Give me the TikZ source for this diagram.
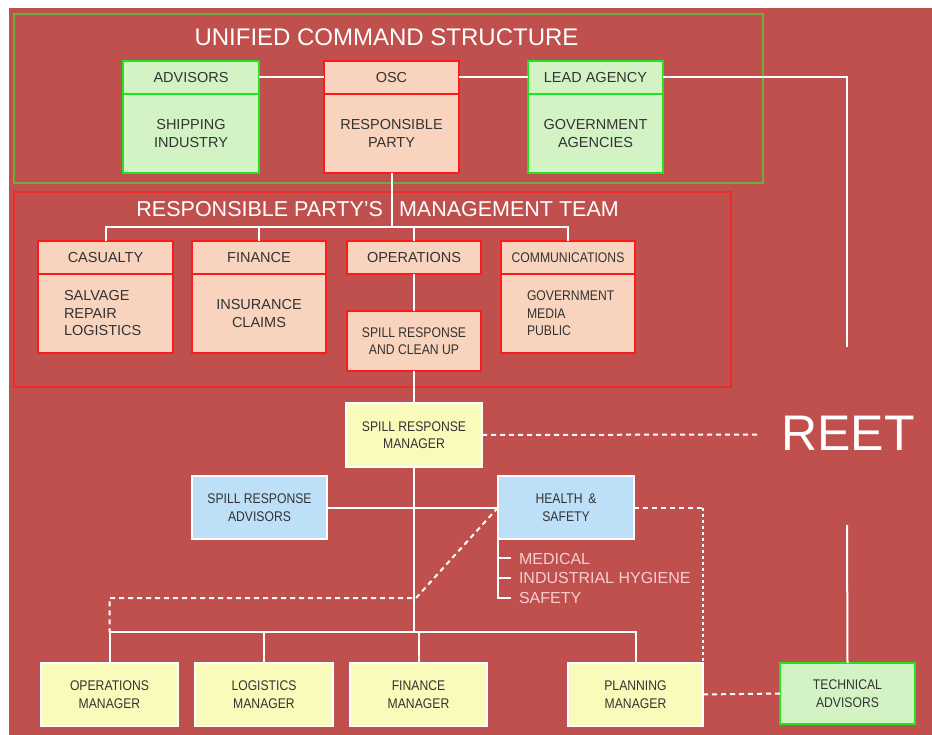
\documentclass[tikz,border=0pt]{standalone}
\usepackage{fontspec}
\setmainfont{Liberation Sans}
\newfontfamily\condf[FakeStretch=0.87]{Liberation Sans}
\definecolor{bgred}{HTML}{C0504D}
\definecolor{peach}{HTML}{F8D3BD}
\definecolor{pred}{HTML}{FF1A1A}
\definecolor{lgreen}{HTML}{D3F3C5}
\definecolor{ggreen}{HTML}{1EE61E}
\definecolor{yell}{HTML}{FAFABB}
\definecolor{lblue}{HTML}{BDE0F8}
\definecolor{framegreen}{HTML}{6BAE3B}
\definecolor{framered}{HTML}{EE2B2B}
\definecolor{listc}{HTML}{F5CFCF}
\definecolor{txtc}{HTML}{333333}
\begin{document}
\begin{tikzpicture}[x=1pt,y=-1pt,
  every node/.style={inner sep=0pt, outer sep=0pt},
  box/.style={draw, rectangle, inner sep=0pt, outer sep=0pt, text=txtc, align=center},
  hfont/.style={font=\fontsize{14.5}{17.5}\selectfont},
  cfont/.style={font=\condf\fontsize{14}{17.5}\selectfont},
  pbox/.style={box, hfont, fill=peach, draw=pred, line width=2.6pt},
  gbox/.style={box, hfont, fill=lgreen, draw=ggreen, line width=2.6pt},
  ybox/.style={box, cfont, fill=yell, draw=white, line width=2pt},
  bbox/.style={box, cfont, fill=lblue, draw=white, line width=2pt},
  frame/.style={draw, rectangle, line width=1.3pt, fill=none},
  title/.style={text=white},
  conn/.style={draw=white, line width=2pt},
  dconn/.style={draw=white, line width=2pt, dash pattern=on 5pt off 4pt},
  vdconn/.style={draw=white, line width=2pt, dash pattern=on 3pt off 3pt},
]
\useasboundingbox (0,0) rectangle (932,735);
\fill[white] (0,0) rectangle (932,735);
\fill[bgred] (9,8) rectangle (932,735);

% frames
\node[frame, draw=framegreen, minimum width=749pt, minimum height=169pt] (ucs) at (388.5,98.5) {};
\node[frame, draw=framered, minimum width=717pt, minimum height=195pt] (rpm) at (372.5,289.5) {};

% titles
\node[title, font=\fontsize{24}{28}\selectfont] (ucsT) at (386.5,37) {UNIFIED COMMAND STRUCTURE};
\node[title, font=\fontsize{21.5}{25}\selectfont, anchor=east] (rpT1) at (383,209) {RESPONSIBLE PARTY{\char"27}S};
\node[title, font=\fontsize{21.5}{25}\selectfont, anchor=west] (rpT2) at (399,209) {MANAGEMENT TEAM};
\node[title, font=\fontsize{50}{56}\selectfont] (reet) at (848,433.5) {REET};

% unified command boxes
\node[gbox, minimum width=136pt, minimum height=33pt] (advh) at (191,77.5) {ADVISORS};
\node[gbox, minimum width=136pt, minimum height=79pt] (advb) at (191,133.5) {SHIPPING\\INDUSTRY};
\node[pbox, minimum width=135pt, minimum height=33pt] (osch) at (391.5,77.5) {OSC};
\node[pbox, minimum width=135pt, minimum height=79pt] (oscb) at (391.5,133.5) {RESPONSIBLE\\PARTY};
\node[gbox, minimum width=135pt, minimum height=33pt] (leadh) at (595.5,77.5) {LEAD AGENCY};
\node[gbox, minimum width=135pt, minimum height=79pt] (leadb) at (595.5,133.5) {GOVERNMENT\\AGENCIES};

% management team boxes
\node[pbox, minimum width=135pt, minimum height=33pt] (cash) at (105.5,257.5) {CASUALTY};
\node[pbox, text width=83pt, inner xsep=26pt, align=left, minimum height=79pt] (casb) at (105.5,313.5) {SALVAGE\\REPAIR\\LOGISTICS};
\node[pbox, minimum width=134pt, minimum height=33pt] (finh) at (259,257.5) {FINANCE};
\node[pbox, minimum width=134pt, minimum height=79pt] (finb) at (259,313.5) {INSURANCE\\CLAIMS};
\node[pbox, minimum width=134pt, minimum height=33pt] (oph) at (414,257.5) {OPERATIONS};
\node[pbox, cfont, minimum width=134pt, minimum height=60pt] (src) at (414,341) {SPILL RESPONSE\\AND CLEAN UP};
\node[pbox, cfont, minimum width=134pt, minimum height=33pt] (comh) at (568,257.5) {COMMUNICATIONS};
\node[pbox, cfont, text width=82pt, inner xsep=26pt, align=left, minimum height=79pt] (comb) at (568,313.5) {GOVERNMENT\\MEDIA\\PUBLIC};

% spill response organisation
\node[ybox, minimum width=136pt, minimum height=64pt] (srm) at (414,435) {SPILL RESPONSE\\MANAGER};
\node[bbox, minimum width=135pt, minimum height=63pt] (sra) at (259.5,507.5) {SPILL RESPONSE\\ADVISORS};
\node[bbox, minimum width=136pt, minimum height=63pt] (hs) at (566,507.5) {HEALTH \,\&\\SAFETY};
\node[text=listc, font=\fontsize{16}{19.5}\selectfont, align=left, anchor=west] (hslist) at (519,578) {MEDICAL\\INDUSTRIAL HYGIENE\\SAFETY};

\node[ybox, minimum width=137pt, minimum height=63pt] (opm) at (109.5,694.5) {OPERATIONS\\MANAGER};
\node[ybox, minimum width=138pt, minimum height=63pt] (lgm) at (264,694.5) {LOGISTICS\\MANAGER};
\node[ybox, minimum width=137pt, minimum height=63pt] (fim) at (418.5,694.5) {FINANCE\\MANAGER};
\node[ybox, minimum width=135pt, minimum height=63pt] (plm) at (635.5,694.5) {PLANNING\\MANAGER};
\node[gbox, cfont, minimum width=135pt, minimum height=61pt] (tech) at (847.5,693.5) {TECHNICAL\\ADVISORS};

% helper coordinates
\coordinate (b1) at (0,227);
\coordinate (b2) at (0,632);
\coordinate (dY) at (0,598);
\coordinate (reetT) at (847,347);
\coordinate (reetB) at (847,525);
\coordinate (reetL) at (757,434.5);

% connectors
\draw[conn] (advh.east) -- (osch.west);
\draw[conn] (osch.east) -- (leadh.west);
\draw[conn] (leadh.east) -| (reetT);
\draw[conn] (reetB) -- (tech.north);
\draw[conn] (oscb.south) -- (oscb.south |- b1);
\draw[conn] (cash.north) |- (comh.north |- b1) -- (comh.north);
\draw[conn] (finh.north) -- (finh.north |- b1);
\draw[conn] (oph.north) -- (oph.north |- b1);
\draw[conn] (oph.south) -- (src.north);
\draw[conn] (src.south) -- (srm.north);
\draw[conn] (srm.south) -- (srm.south |- b2);
\draw[conn] (sra.east) -- (hs.west);
\draw[conn] (opm.north) |- (plm.north |- b2) -- (plm.north);
\draw[conn] (lgm.north) -- (lgm.north |- b2);
\draw[conn] (fim.north) -- (fim.north |- b2);
\draw[conn] (hs.south west) -- ++(0,59) -- ++(13,0);
\draw[conn] (hs.south west) ++(0,19) -- ++(13,0);
\draw[conn] (hs.south west) ++(0,39) -- ++(13,0);

\draw[dconn] (srm.east) -- (reetL);
\draw[dconn] (hs.west) -- ([xshift=2pt]srm.south |- dY) -- (opm.north |- dY) -- (opm.north |- b2);
\draw[dconn] (hs.east) -- (plm.north east |- hs.east);
\draw[vdconn] (plm.north east |- hs.east) -- (plm.north east);
\draw[dconn] (plm.east) -- (tech.west);
\end{tikzpicture}
\end{document}
